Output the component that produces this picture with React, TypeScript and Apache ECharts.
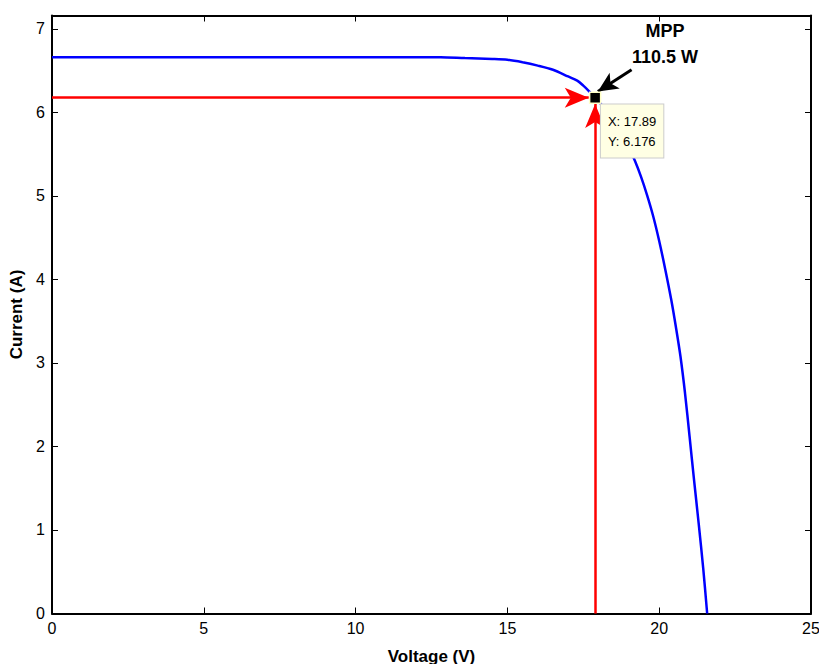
import { useEffect, useRef } from "react";
import * as echarts from "echarts";

// I–V curve of the PV module
const voltage = [0, 5, 10, 12.8, 13.6, 14.5, 15, 15.5, 16, 16.5, 17, 17.3, 17.5, 17.7, 17.89, 18.2, 18.5, 18.8, 19.0, 19.2, 19.4, 19.6, 19.8, 20.0, 20.2, 20.4, 20.55, 20.7, 20.85, 21.0, 21.15, 21.3, 21.45, 21.58];
const current = [6.66, 6.66, 6.66, 6.66, 6.65, 6.64, 6.63, 6.6, 6.56, 6.51, 6.43, 6.38, 6.32, 6.25, 6.176, 6.05, 5.9, 5.72, 5.58, 5.42, 5.23, 5.01, 4.76, 4.46, 4.12, 3.75, 3.43, 3.08, 2.64, 2.12, 1.59, 1.08, 0.54, 0];

// Maximum power point
const mppVoltage = 17.89;
const mppCurrent = 6.176;
const mppPower = 110.5;

// Tick values
const xTicks = [0, 5, 10, 15, 20, 25];
const yTicks = [0, 1, 2, 3, 4, 5, 6, 7];

// Annotation arrows (data coordinates: start, arrow tip)
const hArrow = [[0, 6.176], [17.68, 6.176]];
const vArrow = [[17.89, 0], [17.89, 6.1]];
const kArrow = [[19.09, 6.51], [17.98, 6.25]];

const FONT = "'Liberation Sans', Arial, Helvetica, sans-serif";

export default function App() {
  const ref = useRef<HTMLDivElement>(null);

  useEffect(() => {
    if (!ref.current) return;
    const chart = echarts.init(ref.current, null, { renderer: "svg" });

    const axisLine = { show: true, onZero: false, lineStyle: { color: "#000", width: 2 } };
    const tick = { show: true, inside: true, length: 6, lineStyle: { color: "#000", width: 1 } };

    const arrowLine = (pts: number[][], color: string, width: number, size: number[]) => [
      { coord: pts[0], symbol: "none", lineStyle: { color, width, type: "solid" } },
      { coord: pts[1], symbol: "arrow", symbolSize: size, lineStyle: { color, width, type: "solid" } },
    ];

    const option: any = {
      animation: false,
      backgroundColor: "#fff",
      grid: { left: 52, right: 8, top: 15.5, bottom: 50.5, containLabel: false, outerBoundsMode: "none" },
      xAxis: [
        {
          type: "value",
          min: xTicks[0],
          max: xTicks[xTicks.length - 1],
          interval: 5,
          position: "bottom",
          axisLine,
          axisTick: tick,
          splitLine: { show: false },
          axisLabel: { color: "#000", fontSize: 16, fontFamily: FONT, margin: 7 },
          name: "Voltage (V)",
          nameLocation: "middle",
          nameGap: 34,
          nameTextStyle: { fontWeight: "bold", fontSize: 17, color: "#000", fontFamily: FONT },
        },
        {
          type: "value",
          min: xTicks[0],
          max: xTicks[xTicks.length - 1],
          interval: 5,
          position: "top",
          axisLine,
          axisTick: tick,
          splitLine: { show: false },
          axisLabel: { show: false },
        },
      ],
      yAxis: [
        {
          type: "value",
          min: 0,
          max: 7.16,
          position: "left",
          axisLine,
          axisTick: { ...tick, customValues: yTicks },
          splitLine: { show: false },
          axisLabel: { color: "#000", fontSize: 16, fontFamily: FONT, margin: 7, customValues: yTicks },
          name: "Current (A)",
          nameLocation: "middle",
          nameGap: 23,
          nameRotate: 90,
          nameTextStyle: { fontWeight: "bold", fontSize: 17, color: "#000", fontFamily: FONT },
        },
        {
          type: "value",
          min: 0,
          max: 7.16,
          position: "right",
          axisLine,
          axisTick: { ...tick, customValues: yTicks },
          splitLine: { show: false },
          axisLabel: { show: false },
        },
      ],
      series: [
        {
          type: "line",
          data: voltage.map((v, i) => [v, current[i]]),
          showSymbol: false,
          symbol: "none",
          smooth: 0.3,
          lineStyle: { color: "#0000ff", width: 2.5 },
          silent: true,
          z: 2,
          markLine: {
            silent: true,
            animation: false,
            symbol: ["none", "arrow"],
            label: { show: false },
            emphasis: { disabled: true },
            data: [
              arrowLine(hArrow, "#ff0000", 2.5, [15, 24]),
              arrowLine(vArrow, "#ff0000", 2.5, [15, 24]),
              arrowLine(kArrow, "#000000", 3, [14, 20]),
            ],
          },
        },
        {
          type: "scatter",
          data: [[mppVoltage, mppCurrent]],
          symbol: "rect",
          symbolSize: 11,
          silent: true,
          z: 5,
          itemStyle: { color: "#000", borderColor: "#ffffc8", borderWidth: 1.5, opacity: 1 },
          label: {
            show: true,
            formatter: `X: ${mppVoltage}\nY: ${mppCurrent}`,
            position: [12, 13],
            align: "left",
            verticalAlign: "top",
            color: "#000",
            fontSize: 13,
            lineHeight: 20,
            fontFamily: FONT,
            backgroundColor: "#ffffe4",
            borderColor: "#cccccc",
            borderWidth: 1,
            padding: [7, 7, 6, 7],
          },
        },
      ],
      graphic: [
        {
          type: "text",
          x: 665,
          y: 31,
          style: { text: "MPP", fill: "#000", font: `bold 18px ${FONT}`, textAlign: "center", textVerticalAlign: "middle" },
        },
        {
          type: "text",
          x: 665,
          y: 57,
          style: { text: `${mppPower} W`, fill: "#000", font: `bold 18px ${FONT}`, textAlign: "center", textVerticalAlign: "middle" },
        },
      ],
    };

    chart.setOption(option);
    return () => chart.dispose();
  }, []);

  return <div ref={ref} style={{ position: "absolute", left: 0, top: 0, width: 819, height: 664 }} />;
}
